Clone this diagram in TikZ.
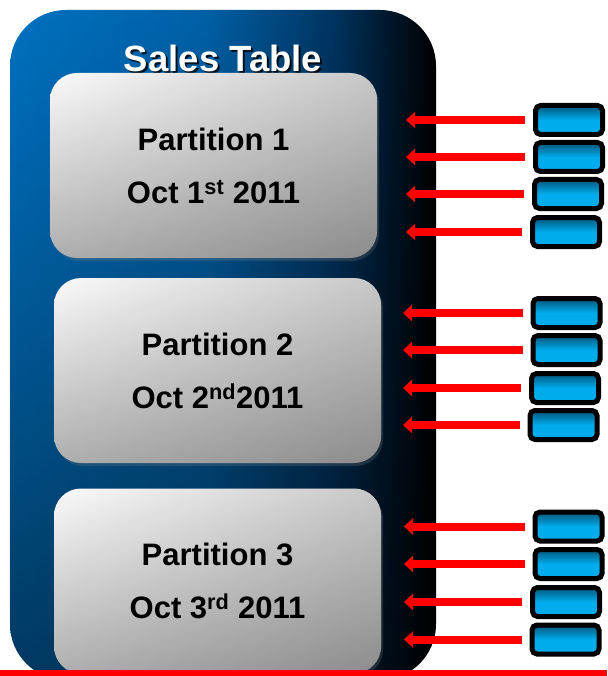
\documentclass[tikz,border=0pt]{standalone}
\usepackage{fontspec}
\setmainfont{Liberation Sans}
\usetikzlibrary{arrows.meta,shadows,fadings}
\definecolor{tableblue}{RGB}{0,114,194}
\definecolor{tablemid}{RGB}{0,96,166}
\definecolor{tabledeep}{RGB}{0,52,96}
\definecolor{chunkdark}{RGB}{0,84,120}
\definecolor{chunkcyan}{RGB}{0,172,236}
\definecolor{gloss}{RGB}{250,250,250}
\definecolor{glossmid}{RGB}{208,208,208}
\definecolor{glossdark}{RGB}{175,175,175}
\definecolor{feedred}{RGB}{255,0,0}
\pgfdeclarehorizontalshading{tableshade}{100bp}{color(0bp)=(tableblue); color(25bp)=(tableblue);
    color(48bp)=(tablemid); color(63bp)=(tabledeep); color(75bp)=(black); color(100bp)=(black)}
\pgfdeclareverticalshading{chunkshade}{100bp}{color(0bp)=(chunkcyan); color(25bp)=(chunkcyan);
    color(50bp)=(chunkcyan); color(75bp)=(chunkdark); color(100bp)=(chunkdark)}
\begin{document}
\begin{tikzpicture}[x=1pt,y=-1pt,
        partbox/.style = {rounded corners=27pt, minimum width=327pt, minimum height=185pt,
            top color=gloss, middle color=glossmid, bottom color=glossdark,
            drop shadow={opacity=0.25, shadow xshift=2pt, shadow yshift=-3pt},
            path picture={\fill[black, opacity=0.2, path fading=west]
                (path picture bounding box.south west) rectangle (path picture bounding box.north east);},
            align=center, font=\fontsize{31}{53}\selectfont\bfseries},
        chunk/.style = {draw=black, line width=5pt, rounded corners=5pt,
            minimum width=67pt, minimum height=29pt, shading=chunkshade},
        feed/.style = {draw=feedred, line width=8pt, -{Triangle[width=16pt,length=9pt]}}]
    \useasboundingbox (0,0) rectangle (607,676);
    \clip (0,0) rectangle (607,676);
    \shade[shading=tableshade, rounded corners=56pt] (10,10) rectangle (436,680);
    \fill[black, opacity=0.5, path fading=north, rounded corners=56pt] (10,10) rectangle (436,680);
    \begin{scope}[every node/.append style = {font = \fontsize{36.5}{40}\selectfont\bfseries}]
        \node[text=black, opacity=0.8] (titleshadow) at (225,60) {Sales Table};
        \node[text=white] (title) at (223,58) {Sales Table};
    \end{scope}
    \node[partbox] (p1) at (213.5,165.5) {Partition 1\\Oct 1\textsuperscript{st} 2011};
    \node[partbox] (p2) at (217.5,370.5) {Partition 2\\Oct 2\textsuperscript{nd}2011};
    \node[partbox] (p3) at (217.5,581) {Partition 3\\Oct 3\textsuperscript{rd} 2011};
    \node[chunk] (c1) at (569,120) {};
    \node[chunk] (c2) at (569,157) {};
    \node[chunk] (c3) at (568,194) {};
    \node[chunk] (c4) at (566,232) {};
    \node[chunk] (c5) at (566.5,313) {};
    \node[chunk] (c6) at (566.5,350) {};
    \node[chunk] (c7) at (565,388) {};
    \node[chunk] (c8) at (563.5,425) {};
    \node[chunk] (c9) at (568.5,526.5) {};
    \node[chunk] (c10) at (568.5,564) {};
    \node[chunk] (c11) at (566,602) {};
    \node[chunk] (c12) at (565.5,639.5) {};
    \coordinate (t1) at (406,120);
    \coordinate (t2) at (406,157);
    \coordinate (t3) at (406,194);
    \coordinate (t4) at (406,232);
    \coordinate (t5) at (403,313);
    \coordinate (t6) at (403,350);
    \coordinate (t7) at (403,388);
    \coordinate (t8) at (403,425);
    \coordinate (t9) at (404,526.5);
    \coordinate (t10) at (404,564);
    \coordinate (t11) at (404,602);
    \coordinate (t12) at (404,639.5);
    \draw[feed] ([xshift=-8pt]c1.west) -- (t1);
    \draw[feed] ([xshift=-8pt]c2.west) -- (t2);
    \draw[feed] ([xshift=-8pt]c3.west) -- (t3);
    \draw[feed] ([xshift=-8pt]c4.west) -- (t4);
    \draw[feed] ([xshift=-8pt]c5.west) -- (t5);
    \draw[feed] ([xshift=-8pt]c6.west) -- (t6);
    \draw[feed] ([xshift=-8pt]c7.west) -- (t7);
    \draw[feed] ([xshift=-8pt]c8.west) -- (t8);
    \draw[feed] ([xshift=-8pt]c9.west) -- (t9);
    \draw[feed] ([xshift=-8pt]c10.west) -- (t10);
    \draw[feed] ([xshift=-8pt]c11.west) -- (t11);
    \draw[feed] ([xshift=-8pt]c12.west) -- (t12);
    \fill[feedred] (0,670) rectangle (607,676);
\end{tikzpicture}
\end{document}
